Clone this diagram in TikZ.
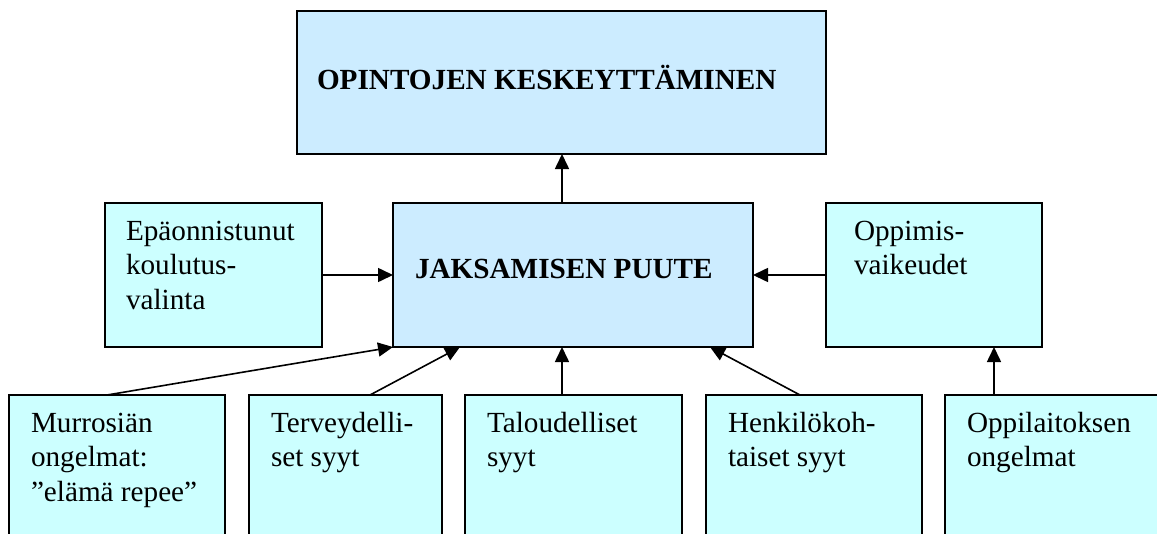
\documentclass[tikz,border=0pt]{standalone}
\usepackage{fontspec}
\setmainfont{Liberation Serif}
\usetikzlibrary{arrows.meta}

\definecolor{paleblue}{HTML}{CCECFF}
\definecolor{paleturq}{HTML}{CCFFFF}

\tikzset{
  box/.style={draw=black, line width=1.6pt, rectangle, inner sep=0pt, outer sep=0pt, anchor=north west},
  mainbox/.style={box, fill=paleblue},
  sidebox/.style={box, fill=paleturq},
  % multi-line texts are placed by the baseline of their last line
  txt/.style={inner sep=0pt, outer sep=0pt, anchor=base west, align=left,
    font=\fontsize{29.2}{34.5}\selectfont},
  arr/.style={line width=1.6pt, -{Triangle[length=15pt, width=14pt]}}
}

\begin{document}
\begin{tikzpicture}[x=1pt, y=-1pt]
  \useasboundingbox (0,0) rectangle (1157,533);
  \clip (0,0) rectangle (1157,533);

  % upper boxes
  \node[mainbox, minimum width=529pt, minimum height=143pt] (top) at (297,11) {};
  \node[mainbox, minimum width=360pt, minimum height=144pt] (mid) at (393,203) {};
  \node[sidebox, minimum width=217pt, minimum height=144pt] (epa) at (105,203) {};
  \node[sidebox, minimum width=216pt, minimum height=144pt] (opp) at (826,203) {};

  % lower row, running past the bottom edge
  \node[sidebox, minimum width=216pt, minimum height=170pt] (mur) at (9,395) {};
  \node[sidebox, minimum width=193pt, minimum height=170pt] (ter) at (249,395) {};
  \node[sidebox, minimum width=217pt, minimum height=170pt] (tal) at (465,395) {};
  \node[sidebox, minimum width=216pt, minimum height=170pt] (hen) at (706,395) {};
  \node[sidebox, minimum width=216pt, minimum height=170pt] (oil) at (945,395) {};

  % texts
  \node[txt] (top-t) at (317,89) {\bfseries OPINTOJEN KESKEYTTÄMINEN};
  \node[txt] (mid-t) at (415,278) {\bfseries JAKSAMISEN PUUTE};
  \node[txt] (epa-t) at (126,309) {Epäonnistunut\\koulutus-\\valinta};
  \node[txt] (opp-t) at (854,274.5) {Oppimis-\\vaikeudet};
  \node[txt] (mur-t) at (31,501) {Murrosiän\\ongelmat:\\”elämä repee”};
  \node[txt] (ter-t) at (271,466.5) {Terveydelli-\\set syyt};
  \node[txt] (tal-t) at (487,466.5) {Taloudelliset\\syyt};
  \node[txt] (hen-t) at (728,466.5) {Henkilökoh-\\taiset syyt};
  \node[txt] (oil-t) at (967,466.5) {Oppilaitoksen\\ongelmat};

  % connectors
  \draw[arr] ([xshift=-11pt]mid.north) -- ([xshift=-11pt]mid.north |- top.south);
  \draw[arr] (epa.east) -- (mid.west);
  \draw[arr] (opp.west) -- (mid.east);
  \draw[arr] ([xshift=98pt]mur.north west) -- (mid.south west);
  \draw[arr] ([xshift=121pt]ter.north west) -- ([xshift=67pt]mid.south west);
  \draw[arr] ([xshift=97pt]tal.north west) -- ([xshift=97pt]tal.north west |- mid.south);
  \draw[arr] ([xshift=94pt]hen.north west) -- ([xshift=-43pt]mid.south east);
  \draw[arr] ([xshift=49pt]oil.north west) -- ([xshift=49pt]oil.north west |- opp.south);
\end{tikzpicture}
\end{document}
